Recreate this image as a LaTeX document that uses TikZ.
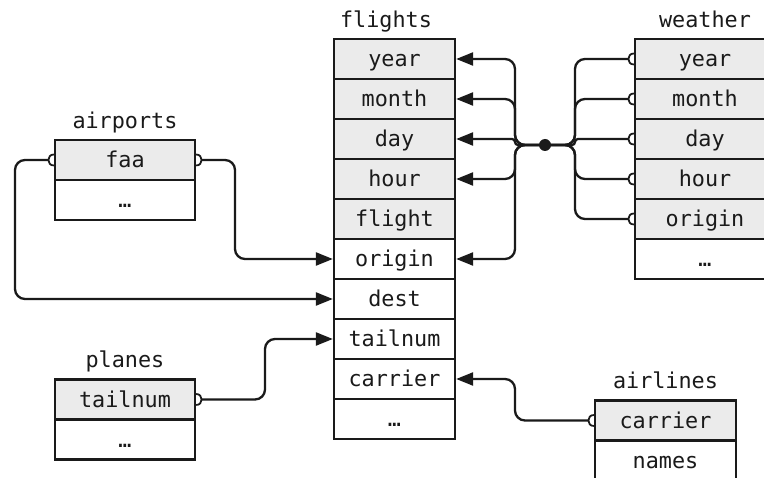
\documentclass[tikz,border=0pt]{standalone}
\usepackage{fontspec}
\newfontfamily\monofam{DejaVu Sans Mono}
\usetikzlibrary{arrows.meta,calc}
\definecolor{keyfill}{HTML}{EBEBEB}
\definecolor{ink}{HTML}{1A1A1A}
\newcommand\knobW[1]{\draw[draw=ink,line width=1.8pt] ($(#1.west)+(0,-5.5)$) .. controls +(-7.3,0) and +(-7.3,0) .. ($(#1.west)+(0,5.5)$);}
\newcommand\knobE[1]{\draw[draw=ink,line width=1.8pt] ($(#1.east)+(0,-5.5)$) .. controls +(7.3,0) and +(7.3,0) .. ($(#1.east)+(0,5.5)$);}
\begin{document}
\begin{tikzpicture}[x=1pt,y=-1pt,
  cell/.style={draw=ink, line width=2.3pt, rectangle, inner sep=0pt,
    minimum height=40pt, text height=15.5pt, text depth=0pt,
    font=\monofam\fontsize{21.8}{24}\selectfont, text=ink},
  keycell/.style={cell, fill=keyfill},
  plaincell/.style={cell, fill=white},
  fw/.style={minimum width=121pt},
  ww/.style={minimum width=140pt},
  tabtitle/.style={anchor=base, inner sep=0pt, font=\monofam\fontsize{21.8}{24}\selectfont, text=ink},
  link/.style={draw=ink, line width=2.3pt, rounded corners=10pt},
  arr/.style={-{Triangle[length=17pt,width=13pt]}},
]
\useasboundingbox (0,0) rectangle (764,478);
\clip (0,0) rectangle (764,478);

% flights
\node[tabtitle] (tf) at (386,28) {flights};
\node[keycell,fw] (f1) at (394.5,59) {year};
\node[keycell,fw] (f2) at (394.5,99) {month};
\node[keycell,fw] (f3) at (394.5,139) {day};
\node[keycell,fw] (f4) at (394.5,179) {hour};
\node[keycell,fw] (f5) at (394.5,219) {flight};
\node[plaincell,fw] (f6) at (394.5,259) {origin};
\node[plaincell,fw] (f7) at (394.5,299) {dest};
\node[plaincell,fw] (f8) at (394.5,339) {tailnum};
\node[plaincell,fw] (f9) at (394.5,379) {carrier};
\node[plaincell,fw] (f10) at (394.5,419) {…};

% weather
\node[tabtitle] (tw) at (705,28) {weather};
\node[keycell,ww] (w1) at (705,59) {year};
\node[keycell,ww] (w2) at (705,99) {month};
\node[keycell,ww] (w3) at (705,139) {day};
\node[keycell,ww] (w4) at (705,179) {hour};
\node[keycell,ww] (w5) at (705,219) {origin};
\node[plaincell,ww] (w6) at (705,259) {…};

% airports
\node[tabtitle] (ta) at (125,129) {airports};
\node[keycell,ww] (a1) at (125,160) {faa};
\node[plaincell,ww] (a2) at (125,200) {…};

% planes
\node[tabtitle] (tp) at (125,368) {planes};
\node[keycell,ww] (p1) at (125,399.5) {tailnum};
\node[plaincell,ww] (p2) at (125,439.5) {…};

% airlines
\node[tabtitle] (tl) at (665.5,389) {airlines};
\node[keycell,ww,minimum width=141pt] (l1) at (665.5,420.5) {carrier};
\node[plaincell,ww,minimum width=141pt] (l2) at (665.5,460.5) {names};

% airports -> flights
\knobE{a1}
\draw[link,arr] ($(a1.east)+(5.5,0)$) -- (235,160) |- (f6.west);
\knobW{a1}
\draw[link,arr] ($(a1.west)+(-5.5,0)$) -- (15,160) |- (f7.west);

% planes -> flights
\knobE{p1}
\draw[link,arr] ($(p1.east)+(5.5,0)$) -- (265,399.5) |- (f8.west);

% airlines -> flights
\knobW{l1}
\draw[link,arr] ($(l1.west)+(-5.5,0)$) -- (515,420.5) |- (f9.east);

% weather -> flights
\coordinate (hub) at (545,145);
\coordinate (rt) at (575,145);
\coordinate (lt) at (515,145);
\foreach \w in {w1,w2,w4,w5}{
  \knobW{\w}
  \draw[link] ($(\w.west)+(-5.5,0)$) -| (rt) -- (hub);
}
\knobW{w3}
\draw[link,rounded corners=3pt] ($(w3.west)+(-5.5,0)$) -| (rt) -- (hub);
\foreach \f in {f1,f2,f4,f6}{
  \draw[link,arr] (hub) -- (lt) |- (\f.east);
}
\draw[link,arr,rounded corners=3pt] (hub) -- (lt) |- (f3.east);
\fill[ink] (hub) circle (6);
\end{tikzpicture}
\end{document}
